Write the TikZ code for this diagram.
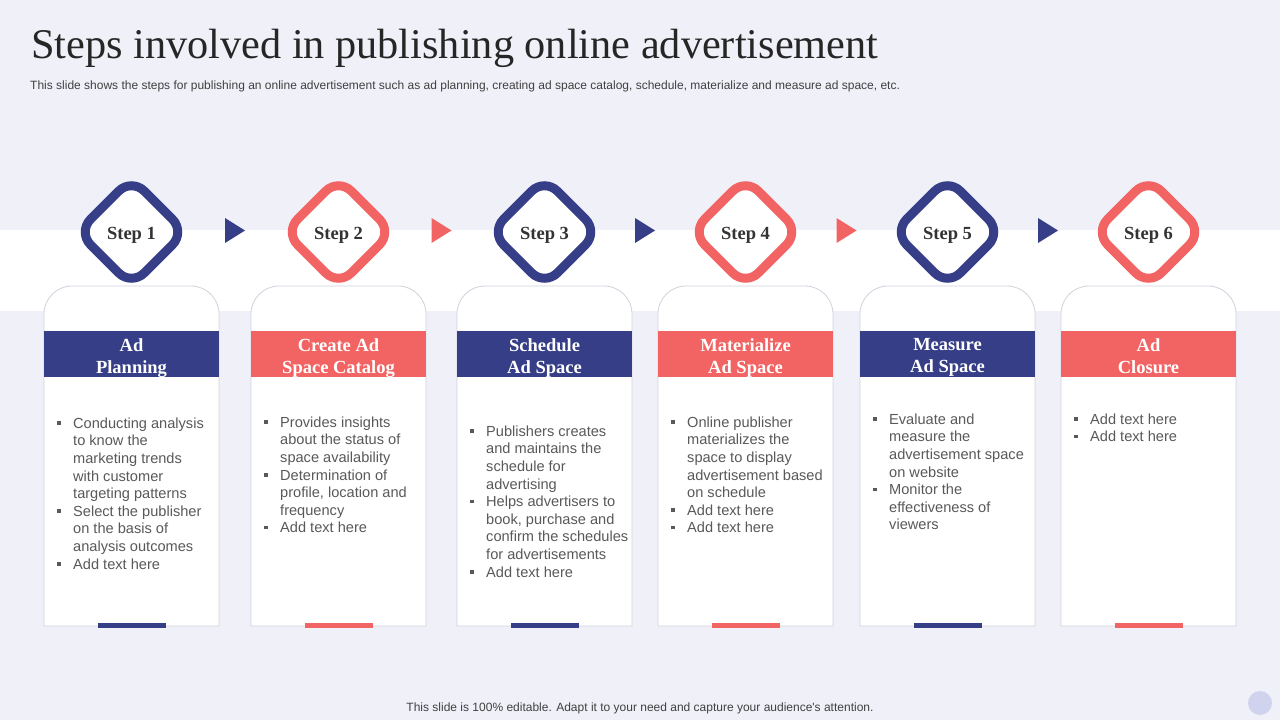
\documentclass[tikz,border=0pt]{standalone}
\usepackage{fontspec}
\setmainfont{Liberation Serif}
\newfontfamily\arial{Liberation Sans}
\usetikzlibrary{calc}
\definecolor{navy}{RGB}{53,62,134}
\definecolor{coral}{RGB}{242,100,100}
\definecolor{bg}{RGB}{240,240,248}
\definecolor{bodygray}{RGB}{89,89,89}
\definecolor{subgray}{RGB}{64,64,64}
\definecolor{cardborder}{RGB}{208,210,220}
\definecolor{titlegray}{RGB}{38,38,38}
\definecolor{stepgray}{RGB}{51,51,51}
\definecolor{dotc}{RGB}{208,211,238}
\newcommand\bul{\makebox[16pt][l]{\raisebox{3.4pt}{\rule{3.4pt}{3.4pt}}}}
\newcommand\ind{\hspace*{16pt}}
\tikzset{
  cardline/.style={draw=cardborder, line width=0.8pt, fill=white},
  headtext/.style={anchor=north, inner sep=0pt, text=white, align=center,
    font=\bfseries\fontsize{18.5}{22}\selectfont},
  bodytext/.style={anchor=north west, inner sep=0pt, text=bodygray, align=left,
    font=\arial\fontsize{14.6}{17.6}\selectfont},
  steplabel/.style={anchor=base, inner sep=0pt, text=stepgray,
    font=\bfseries\fontsize{18.5}{22}\selectfont},
  diamondline/.style={line width=9pt, rounded corners=18pt, fill=white},
}
\newcommand\mkcard[6]{%
  \draw[cardline] (#2,626) -- (#2,314) arc[start angle=180,end angle=270,radius=28]
    -- ({#2+147},286) arc[start angle=270,end angle=360,radius=28] -- ({#2+175},626) -- cycle;
  \fill[#3] (#2,331) rectangle ({#2+175},376.5);
  \node[headtext] (#1h) at ({#2+87.5},338) {#4};
  \node[bodytext] (#1b) at ({#2+13},{#5-5.5}) {#6};
  \fill[#3] ({#2+87.5-34},622.5) rectangle ({#2+87.5+34},628);
}
\newcommand\mkstep[4]{% name, center x, color, label
  \coordinate (#1) at (#2,232);
  \draw[diamondline, draw=#3] ($(#1)+(-26.85,-26.85)$) -- ($(#1)+(0,-53.7)$) -- ($(#1)+(53.7,0)$)
    -- ($(#1)+(0,53.7)$) -- ($(#1)+(-53.7,0)$) -- cycle;
  \node[steplabel] (#1l) at (#2,239) {#4};
}
\newcommand\mkarrow[3]{% from, to, color
  \coordinate (#1#2m) at ($(#1)!0.5!(#2)+(0,-1.5)$);
  \fill[#3] ($(#1#2m)+(-10,-12.5)$) -- ($(#1#2m)+(10,0)$) -- ($(#1#2m)+(-10,12.5)$) -- cycle;
}
\begin{document}
\begin{tikzpicture}[x=1pt,y=-1pt]
\useasboundingbox (0,0) rectangle (1280,720);
\fill[bg] (0,0) rectangle (1280,720);
\fill[white] (0,230) rectangle (1280,311);

\node[anchor=base west, inner sep=0pt, text=titlegray, font=\fontsize{42.3}{50}\selectfont] (title) at (31,58)
  {Steps involved in publishing online advertisement};
\node[anchor=base west, inner sep=0pt, text=subgray, font=\arial\fontsize{12}{14}\selectfont] (sub) at (30,89)
  {This slide shows the steps for publishing an online advertisement such as ad planning, creating ad space catalog, schedule, materialize and measure ad space, etc.};

\mkcard{c1}{44}{navy}{Ad\\Planning}{423}{\bul Conducting analysis\\\ind to know the\\\ind marketing trends\\\ind with customer\\\ind targeting patterns\\\bul Select the publisher\\\ind on the basis of\\\ind analysis outcomes\\\bul Add text here}
\mkcard{c2}{251}{coral}{Create Ad\\Space Catalog}{422}{\bul Provides insights\\\ind about the status of\\\ind space availability\\\bul Determination of\\\ind profile, location and\\\ind frequency\\\bul Add text here}
\mkcard{c3}{457}{navy}{Schedule\\Ad Space}{431}{\bul Publishers creates\\\ind and maintains the\\\ind schedule for\\\ind advertising\\\bul Helps advertisers to\\\ind book, purchase and\\\ind confirm the schedules\\\ind for advertisements\\\bul Add text here}
\mkcard{c4}{658}{coral}{Materialize\\Ad Space}{422}{\bul Online publisher\\\ind materializes the\\\ind space to display\\\ind advertisement based\\\ind on schedule\\\bul Add text here\\\bul Add text here}
\mkcard{c5}{860}{navy}{Measure\\Ad Space}{419}{\bul Evaluate and\\\ind measure the\\\ind advertisement space\\\ind on website\\\bul Monitor the\\\ind effectiveness of\\\ind viewers}
\mkcard{c6}{1061}{coral}{Ad\\Closure}{419}{\bul Add text here\\\bul Add text here}

\mkstep{s1}{131.5}{navy}{Step 1}
\mkstep{s2}{338.5}{coral}{Step 2}
\mkstep{s3}{544.5}{navy}{Step 3}
\mkstep{s4}{745.5}{coral}{Step 4}
\mkstep{s5}{947.5}{navy}{Step 5}
\mkstep{s6}{1148.5}{coral}{Step 6}

\mkarrow{s1}{s2}{navy}
\mkarrow{s2}{s3}{coral}
\mkarrow{s3}{s4}{navy}
\mkarrow{s4}{s5}{coral}
\mkarrow{s5}{s6}{navy}

\node[anchor=base, inner sep=0pt, text=subgray, font=\arial\fontsize{12}{14}\selectfont] (foot) at (640,711)
  {This slide is 100\% editable. Adapt it to your need and capture your audience's attention.};
\fill[dotc] (1260,703) circle[radius=12];
\end{tikzpicture}
\end{document}
